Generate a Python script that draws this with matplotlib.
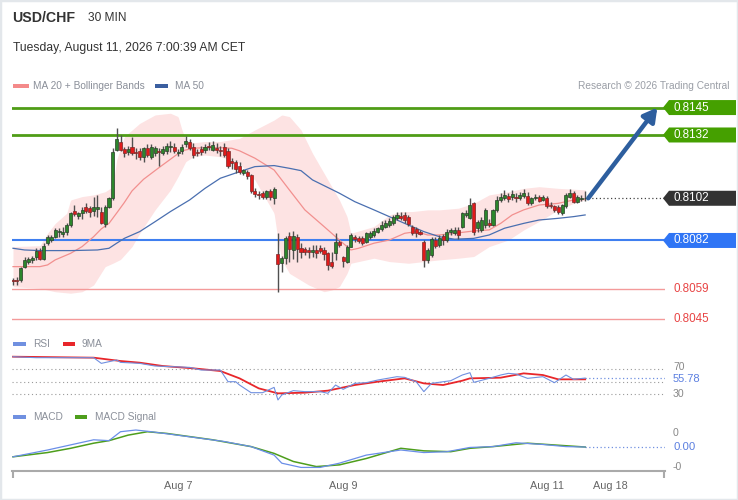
import numpy as np
import matplotlib
matplotlib.use("Agg")
import matplotlib.pyplot as plt
from matplotlib.patches import Polygon, Rectangle

plt.rcParams['font.family'] = ['Liberation Sans', 'DejaVu Sans']

# ---------------- data ----------------
symbol = "USD/CHF"
timeframe = "30 MIN"
timestamp = "Tuesday, August 11, 2026 7:00:39 AM CET"
credit = "Research \u00a9 2026 Trading Central"

opens = [0.80633, 0.80633, 0.80633, 0.80693, 0.80719, 0.80727, 0.80740, 0.80770, 0.80731, 0.80807,
         0.80822, 0.80838, 0.80860, 0.80851, 0.80862, 0.80893, 0.80962, 0.80938, 0.80949, 0.80977,
         0.80973, 0.80962, 0.80969, 0.80957, 0.80898, 0.80977, 0.81020, 0.81249, 0.81288, 0.81252,
         0.81239, 0.81265, 0.81239, 0.81246, 0.81215, 0.81257, 0.81216, 0.81233, 0.81245, 0.81235,
         0.81245, 0.81265, 0.81265, 0.81235, 0.81245, 0.81275, 0.81285, 0.81265, 0.81240, 0.81255,
         0.81250, 0.81268, 0.81250, 0.81260, 0.81250, 0.81265, 0.81245, 0.81195, 0.81190, 0.81175,
         0.81140, 0.81145, 0.81128, 0.81055, 0.81040, 0.81045, 0.81025, 0.81055, 0.81020, 0.80756,
         0.80712, 0.80735, 0.80840, 0.80775, 0.80835, 0.80783, 0.80778, 0.80775, 0.80763, 0.80775,
         0.80783, 0.80775, 0.80759, 0.80720, 0.80759, 0.80815, 0.80740, 0.80720, 0.80791, 0.80835,
         0.80830, 0.80830, 0.80815, 0.80835, 0.80846, 0.80862, 0.80873, 0.80886, 0.80894, 0.80905,
         0.80925, 0.80936, 0.80941, 0.80933, 0.80886, 0.80873, 0.80862, 0.80815, 0.80728, 0.80751,
         0.80823, 0.80799, 0.80841, 0.80822, 0.80859, 0.80854, 0.80869, 0.80885, 0.80943, 0.80925,
         0.80996, 0.80877, 0.80870, 0.80893, 0.80904, 0.80893, 0.80964, 0.81012, 0.81020, 0.81031,
         0.81024, 0.81028, 0.81020, 0.81031, 0.81031, 0.80996, 0.81020, 0.81024, 0.81012, 0.81020,
         0.80988, 0.80983, 0.80980, 0.80949, 0.80983, 0.81028, 0.81043, 0.81004, 0.81015, 0.81020]

highs = [0.80642, 0.80647, 0.80696, 0.80743, 0.80743, 0.80746, 0.80783, 0.80784, 0.80807, 0.80846,
         0.80846, 0.80878, 0.80879, 0.80885, 0.80901, 0.80957, 0.80988, 0.80957, 0.80980, 0.80996,
         0.80983, 0.81028, 0.81036, 0.80980, 0.80988, 0.81028, 0.81257, 0.81352, 0.81321, 0.81265,
         0.81268, 0.81309, 0.81257, 0.81257, 0.81265, 0.81276, 0.81278, 0.81270, 0.81260, 0.81270,
         0.81280, 0.81290, 0.81280, 0.81255, 0.81275, 0.81315, 0.81300, 0.81280, 0.81255, 0.81270,
         0.81275, 0.81285, 0.81290, 0.81280, 0.81270, 0.81280, 0.81260, 0.81210, 0.81200, 0.81190,
         0.81160, 0.81155, 0.81135, 0.81070, 0.81055, 0.81055, 0.81060, 0.81065, 0.81075, 0.80854,
         0.80745, 0.80840, 0.80860, 0.80865, 0.80850, 0.80807, 0.80791, 0.80791, 0.80799, 0.80799,
         0.80799, 0.80791, 0.80767, 0.80767, 0.80854, 0.80823, 0.80748, 0.80799, 0.80854, 0.80846,
         0.80840, 0.80840, 0.80862, 0.80865, 0.80878, 0.80886, 0.80910, 0.80917, 0.80925, 0.80941,
         0.80957, 0.80957, 0.80953, 0.80941, 0.80894, 0.80886, 0.80870, 0.80823, 0.80783, 0.80835,
         0.80835, 0.80846, 0.80850, 0.80875, 0.80880, 0.80885, 0.80885, 0.80957, 0.80965, 0.81020,
         0.81004, 0.80915, 0.80930, 0.80975, 0.80920, 0.80970, 0.81030, 0.81045, 0.81060, 0.81045,
         0.81060, 0.81045, 0.81050, 0.81065, 0.81050, 0.81028, 0.81040, 0.81035, 0.81035, 0.81030,
         0.81000, 0.80990, 0.80988, 0.80995, 0.81045, 0.81065, 0.81055, 0.81035, 0.81035, 0.81056]

lows = [0.80609, 0.80609, 0.80625, 0.80688, 0.80709, 0.80712, 0.80727, 0.80727, 0.80727, 0.80799,
        0.80813, 0.80830, 0.80838, 0.80838, 0.80846, 0.80885, 0.80938, 0.80922, 0.80922, 0.80949,
        0.80930, 0.80938, 0.80930, 0.80898, 0.80885, 0.80973, 0.81012, 0.81246, 0.81246, 0.81216,
        0.81225, 0.81225, 0.81204, 0.81201, 0.81193, 0.81216, 0.81208, 0.81220, 0.81175, 0.81225,
        0.81230, 0.81240, 0.81235, 0.81220, 0.81230, 0.81265, 0.81250, 0.81210, 0.81220, 0.81225,
        0.81235, 0.81250, 0.81245, 0.81235, 0.81220, 0.81215, 0.81165, 0.81160, 0.81140, 0.81135,
        0.81130, 0.81110, 0.81045, 0.81025, 0.81015, 0.81015, 0.81015, 0.81010, 0.80995, 0.80577,
        0.80670, 0.80710, 0.80720, 0.80730, 0.80720, 0.80736, 0.80749, 0.80736, 0.80744, 0.80736,
        0.80759, 0.80728, 0.80680, 0.80688, 0.80728, 0.80791, 0.80696, 0.80712, 0.80791, 0.80815,
        0.80807, 0.80799, 0.80807, 0.80826, 0.80838, 0.80854, 0.80865, 0.80878, 0.80886, 0.80894,
        0.80917, 0.80917, 0.80905, 0.80890, 0.80846, 0.80838, 0.80846, 0.80696, 0.80712, 0.80744,
        0.80783, 0.80791, 0.80800, 0.80814, 0.80845, 0.80846, 0.80826, 0.80880, 0.80930, 0.80920,
        0.80846, 0.80862, 0.80860, 0.80880, 0.80885, 0.80890, 0.80955, 0.81004, 0.81010, 0.81004,
        0.81012, 0.81004, 0.81010, 0.81020, 0.80990, 0.80988, 0.81012, 0.81000, 0.81005, 0.80975,
        0.80975, 0.80955, 0.80945, 0.80940, 0.80975, 0.81020, 0.80996, 0.80996, 0.81005, 0.81008]

closes = [0.80627, 0.80628, 0.80688, 0.80727, 0.80731, 0.80735, 0.80770, 0.80731, 0.80794, 0.80835,
          0.80835, 0.80870, 0.80865, 0.80862, 0.80893, 0.80949, 0.80946, 0.80949, 0.80964, 0.80962,
          0.80957, 0.80980, 0.80977, 0.80901, 0.80977, 0.81020, 0.81241, 0.81300, 0.81249, 0.81236,
          0.81252, 0.81236, 0.81233, 0.81215, 0.81257, 0.81225, 0.81265, 0.81260, 0.81240, 0.81255,
          0.81268, 0.81270, 0.81245, 0.81238, 0.81265, 0.81290, 0.81260, 0.81225, 0.81235, 0.81238,
          0.81265, 0.81263, 0.81273, 0.81250, 0.81245, 0.81225, 0.81175, 0.81185, 0.81160, 0.81145,
          0.81152, 0.81125, 0.81053, 0.81038, 0.81035, 0.81025, 0.81055, 0.81025, 0.81065, 0.80710,
          0.80735, 0.80830, 0.80780, 0.80840, 0.80780, 0.80763, 0.80767, 0.80763, 0.80775, 0.80759,
          0.80772, 0.80756, 0.80704, 0.80699, 0.80815, 0.80799, 0.80725, 0.80791, 0.80846, 0.80826,
          0.80819, 0.80810, 0.80854, 0.80854, 0.80867, 0.80878, 0.80894, 0.80902, 0.80910, 0.80933,
          0.80941, 0.80925, 0.80917, 0.80898, 0.80854, 0.80854, 0.80851, 0.80728, 0.80775, 0.80826,
          0.80794, 0.80830, 0.80820, 0.80862, 0.80869, 0.80869, 0.80846, 0.80949, 0.80949, 0.80988,
          0.80862, 0.80909, 0.80917, 0.80964, 0.80893, 0.80964, 0.81012, 0.81028, 0.81036, 0.81015,
          0.81040, 0.81020, 0.81036, 0.81043, 0.80996, 0.81020, 0.81028, 0.81009, 0.81024, 0.80983,
          0.80983, 0.80964, 0.80956, 0.80988, 0.81036, 0.81043, 0.81004, 0.81024, 0.81020, 0.81020]

# Bollinger / moving averages, read at sample candles
upper_idx = [1, 8, 10, 12, 15, 16, 19, 22, 25, 27, 28, 30, 34, 38, 42, 44, 45, 46, 48, 51, 55, 60, 64, 69,
             71, 73, 76, 79, 83, 86, 88, 89, 95, 99, 102, 105, 109, 112, 117, 121, 125, 130, 134, 138,
             143, 147, 150]
upper_val = [0.80791, 0.80795, 0.80854, 0.80901, 0.80949, 0.81012, 0.81028, 0.81036, 0.81051, 0.81075,
             0.81202, 0.81312, 0.81375, 0.81415, 0.81423, 0.81407, 0.81344, 0.81296, 0.81283, 0.81289,
             0.81289, 0.81304, 0.81344, 0.81391, 0.81415, 0.81407, 0.81344, 0.81233, 0.81107, 0.81012,
             0.80933, 0.80854, 0.80886, 0.80941, 0.80957, 0.80957, 0.80965, 0.80965, 0.80973, 0.80996,
             0.81036, 0.81051, 0.81067, 0.81075, 0.81067, 0.81063, 0.81060]
lower_idx = [1, 8, 12, 16, 19, 22, 25, 27, 29, 32, 34, 38, 42, 44, 46, 48, 51, 55, 60, 63, 64, 67, 69,
             70, 71, 73, 78, 82, 84, 86, 88, 89, 95, 99, 104, 108, 112, 117, 121, 125, 130, 134, 138,
             143, 147, 150]
lower_val = [0.80601, 0.80593, 0.80577, 0.80570, 0.80577, 0.80609, 0.80696, 0.80712, 0.80730, 0.80791,
             0.80854, 0.80965, 0.81059, 0.81123, 0.81194, 0.81217, 0.81225, 0.81217, 0.81186, 0.81123,
             0.81107, 0.81012, 0.80949, 0.80822, 0.80728, 0.80664, 0.80609, 0.80577, 0.80585, 0.80601,
             0.80664, 0.80712, 0.80736, 0.80720, 0.80712, 0.80720, 0.80728, 0.80736, 0.80744, 0.80791,
             0.80822, 0.80870, 0.80910, 0.80965, 0.80996, 0.81012]
ma20_idx = [1, 8, 10, 12, 16, 19, 22, 24, 26, 28, 30, 32, 35, 39, 42, 45, 48, 51, 55, 58, 60, 64, 69,
            73, 77, 82, 86, 89, 91, 95, 99, 103, 106, 109, 112, 116, 121, 125, 128, 131, 134, 138, 143,
            147, 150]
ma20_val = [0.80696, 0.80696, 0.80704, 0.80728, 0.80759, 0.80791, 0.80838, 0.80875, 0.80901, 0.80950,
            0.81000, 0.81055, 0.81110, 0.81165, 0.81205, 0.81245, 0.81257, 0.81260, 0.81260, 0.81257,
            0.81245, 0.81210, 0.81154, 0.81059, 0.80965, 0.80886, 0.80822, 0.80775, 0.80783, 0.80807,
            0.80822, 0.80854, 0.80862, 0.80846, 0.80846, 0.80854, 0.80865, 0.80870, 0.80901, 0.80941,
            0.80965, 0.80988, 0.80996, 0.81012, 0.81015]
ma50_idx = [1, 4, 8, 16, 23, 26, 28, 30, 34, 38, 42, 47, 51, 55, 60, 64, 69, 73, 76, 79, 86, 90, 95, 99,
            103, 108, 112, 116, 121, 125, 129, 134, 138, 143, 147, 150]
ma50_val = [0.80783, 0.80775, 0.80772, 0.80772, 0.80775, 0.80783, 0.80807, 0.80830, 0.80862, 0.80909,
            0.80957, 0.81012, 0.81067, 0.81115, 0.81146, 0.81170, 0.81175, 0.81162, 0.81151, 0.81107,
            0.81044, 0.81004, 0.80965, 0.80933, 0.80901, 0.80862, 0.80838, 0.80826, 0.80830, 0.80846,
            0.80878, 0.80901, 0.80917, 0.80925, 0.80933, 0.80941]

# key levels
resistances = [0.8145, 0.8132]
pivot = 0.8082
supports = [0.8059, 0.8045]

# RSI panel
rsi_idx = [1, 7, 22, 24, 28, 29, 34, 38, 47, 50, 55, 57, 59, 60, 63, 66, 69, 70, 71, 74, 77, 81, 83, 85,
           87, 90, 93, 96, 101, 103, 106, 108, 110, 115, 118, 120, 121, 125, 128, 130, 132, 135, 139,
           142, 145, 147, 150]
rsi_val = [90.4, 88.8, 88.8, 79.6, 85.0, 81.2, 79.6, 75.3, 73.1, 68.8, 68.8, 49.9, 49.9, 44.5, 32.1,
           32.1, 40.7, 20.3, 28.4, 35.4, 33.8, 33.8, 31.1, 44.5, 37.5, 47.2, 48.3, 52.6, 58.0, 56.9,
           49.9, 33.8, 47.2, 51.5, 60.7, 64.5, 48.8, 55.3, 60.7, 63.4, 62.3, 55.3, 58.0, 48.3, 60.7,
           53.7, 55.78]
rsi_ma_idx = [1, 22, 29, 34, 40, 48, 55, 60, 65, 70, 77, 83, 90, 96, 103, 108, 113, 118, 120, 128, 134,
              139, 143, 150]
rsi_ma_val = [90.4, 88.8, 83.4, 80.7, 75.3, 71.5, 67.2, 55.3, 39.1, 31.0, 32.1, 35.4, 44.5, 49.9, 55.3,
              47.2, 44.5, 51.5, 55.3, 56.4, 63.4, 60.7, 53.7, 53.7]
rsi_levels = [70, 50, 30]

# MACD panel
macd_idx = [1, 10, 16, 22, 26, 29, 33, 37, 47, 56, 63, 69, 71, 76, 81, 86, 93, 102, 108, 114, 120, 126,
            132, 139, 145, 150]
macd_val = [-0.00016, 0.0, 0.00012, 0.00024, 0.00022, 0.00043, 0.00047, 0.00043, 0.00031, 0.00020,
            0.00008, -0.00012, -0.00031, -0.00041, -0.00041, -0.00031, -0.00012, 0.0, -0.00006,
            -0.00004, 0.00006, 0.00008, 0.00017, 0.00013, 0.00008, 0.00007]
signal_idx = [1, 10, 16, 22, 26, 31, 36, 41, 53, 63, 69, 74, 80, 86, 93, 102, 108, 115, 120, 126, 135,
              145, 150]
signal_val = [-0.00016, -0.00006, 0.00004, 0.00016, 0.00022, 0.00035, 0.00043, 0.00039, 0.00024,
              0.00008, -0.00008, -0.00027, -0.00039, -0.00035, -0.00020, 0.00004, -0.00002, -0.00004,
              0.00004, 0.00008, 0.00016, 0.00010, 0.00007]
macd_ticks = [0.0004, -0.0004]
macd_tick_labels = ["0", "-0"]

date_pos = [44, 87, 140, 156.5]
date_labels = ["Aug 7", "Aug 9", "Aug 11", "Aug 18"]

# ---------------- layout ----------------
W, H = 738, 500
fig = plt.figure(figsize=(W / 100, H / 100), dpi=100)
fig.patch.set_facecolor("white")


def fx(px):
    return px / W


def fy(py):
    return 1 - py / H


XMIN, XMAX = 0.74, 170.8


def panel(top, bottom):
    ax = fig.add_axes([fx(12), fy(bottom), fx(665) - fx(12), (bottom - top) / H])
    ax.set_xlim(XMIN, XMAX)
    ax.set_facecolor("none")
    for s in ax.spines.values():
        s.set_visible(False)
    ax.set_xticks([])
    ax.set_yticks([])
    return ax


ax = panel(98, 328)
ax.set_ylim(0.804051, 0.814953)
ax_rsi = panel(352, 402)
ax_rsi.set_ylim(17.0, 98.0)
ax_macd = panel(425, 471)
ax_macd.set_ylim(-0.000494, 0.000588)

# frame
fig.add_artist(Rectangle((0, 0), 1, 1, transform=fig.transFigure, fill=False,
                         edgecolor="#e3e7eb", lw=2.5))

# header
fig.text(fx(12), fy(18), symbol, fontsize=10.2, fontweight="bold", color="#333333", va="center")
fig.text(fx(88), fy(18), timeframe, fontsize=8.6, color="#333333", va="center")
fig.text(fx(13), fy(48), timestamp, fontsize=8.7, color="#333333", va="center")

# main legend
fig.add_artist(Rectangle((fx(13), fy(88)), fx(16), 4 / H, transform=fig.transFigure,
                         color="#f48a8a", lw=0))
fig.text(fx(33), fy(86), "MA 20 + Bollinger Bands", fontsize=7.3, color="#8a8f99", va="center")
fig.add_artist(Rectangle((fx(155), fy(88)), fx(13), 4 / H, transform=fig.transFigure,
                         color="#3b5fa0", lw=0))
fig.text(fx(175), fy(86), "MA 50", fontsize=7.3, color="#8a8f99", va="center")
fig.text(fx(729), fy(86), credit, fontsize=7.3, color="#9a9ea6", va="center", ha="right")

# ---------------- main price panel ----------------
n = len(closes)
xi = np.arange(1, n + 1)
o = np.array(opens)
h = np.array(highs)
l = np.array(lows)
c = np.array(closes)

xs = np.linspace(1, n, 800)
up = np.interp(xs, upper_idx, upper_val)
lo = np.interp(xs, lower_idx, lower_val)
ax.fill_between(xs, lo, up, color="#fde3e3", lw=0, zorder=1)
ax.plot(ma20_idx, ma20_val, color="#f2908f", lw=0.9, zorder=3)
ax.plot(ma50_idx, ma50_val, color="#4a6fb0", lw=0.9, zorder=3)

for r in resistances:
    ax.axhline(r, color="#4f9d16", lw=2.0, zorder=2)
ax.axhline(pivot, color="#3f7ff0", lw=1.5, zorder=2)
for s in supports:
    ax.axhline(s, color="#f49a9a", lw=1.0, zorder=2)

up_mask = c >= o
ax.vlines(xi, l, h, color="#505050", lw=1.0, zorder=4)
body_lo = np.minimum(o, c)
body_h = np.maximum(np.abs(c - o), 0.000015)
ax.bar(xi[up_mask], body_h[up_mask], bottom=body_lo[up_mask], width=0.8,
       color="#2c862c", edgecolor="#2a3f2a", lw=0.5, zorder=5)
ax.bar(xi[~up_mask], body_h[~up_mask], bottom=body_lo[~up_mask], width=0.8,
       color="#e01a1a", edgecolor="#7a2a2a", lw=0.5, zorder=5)

# projection arrow and last price dotted line
ax.plot([n + 0.8, XMAX], [c[-1], c[-1]], color="#444444", lw=0.9, ls=(0, (1, 2)), zorder=3)
ax.annotate("", xy=(n + 18.8, resistances[0]), xytext=(n + 0.8, c[-1]),
            arrowprops=dict(arrowstyle="-|>,head_length=0.8,head_width=0.45", color="#2d5e9e",
                            lw=3.2, shrinkA=0, shrinkB=0, mutation_scale=10), zorder=6)


def tag(axis, val, text, fc=None, tc="white", size=8.4, dy=0.0):
    yd = axis.transData.transform((XMAX, val))[1]
    ypx = H - yd
    if fc is not None:
        pts = [(663, ypx), (669, ypx - 7.5), (736, ypx - 7.5), (736, ypx + 7.5), (669, ypx + 7.5)]
        fig.add_artist(Polygon([(fx(a), fy(b)) for a, b in pts], closed=True,
                               transform=fig.transFigure, color=fc, lw=0))
    fig.text(fx(673), fy(ypx + dy), text, fontsize=size, color=tc, va="center", ha="left")


for r in resistances:
    tag(ax, r, f"{r:.4f}", "#45a000")
tag(ax, c[-1], f"{c[-1]:.4f}", "#333333")
tag(ax, pivot, f"{pivot:.4f}", "#2f75f5")
for s in supports:
    tag(ax, s, f"{s:.4f}", None, "#e84545")

# ---------------- RSI panel ----------------
for lv in rsi_levels:
    ax_rsi.axhline(lv, color="#9a9a9a", lw=0.8, ls=(0, (1, 2.5)))
ax_rsi.plot(rsi_ma_idx, rsi_ma_val, color="#e8262a", lw=1.3, zorder=3)
ax_rsi.plot(rsi_idx, rsi_val, color="#7090e0", lw=0.8, zorder=4)
ax_rsi.plot([rsi_idx[-1], XMAX], [rsi_val[-1]] * 2, color="#7090e0", lw=0.9, ls=(0, (1, 2)))
tag(ax_rsi, 70, "70", None, "#888888", 7.4, -2.0)
tag(ax_rsi, 30, "30", None, "#888888", 7.6)
tag(ax_rsi, rsi_val[-1], f"{rsi_val[-1]:.2f}", None, "#5b7fe0", 8.0, 0.8)

fig.add_artist(Rectangle((fx(13), fy(346)), fx(13), 4 / H, transform=fig.transFigure,
                         color="#7090e0", lw=0))
fig.text(fx(33), fy(344), "RSI", fontsize=7.3, color="#8a8f99", va="center")
fig.add_artist(Rectangle((fx(63), fy(346)), fx(12), 4 / H, transform=fig.transFigure,
                         color="#e8262a", lw=0))
fig.text(fx(82), fy(344), "9MA", fontsize=7.3, color="#8a8f99", va="center")

# ---------------- MACD panel ----------------
ax_macd.plot(signal_idx, signal_val, color="#4e9e1c", lw=1.1, zorder=3)
ax_macd.plot(macd_idx, macd_val, color="#6a8ee8", lw=0.9, zorder=4)
ax_macd.plot([macd_idx[-1], XMAX], [macd_val[-1]] * 2, color="#7090e0", lw=0.9, ls=(0, (1, 2)))
for v, t in zip(macd_ticks, macd_tick_labels):
    tag(ax_macd, v, t, None, "#888888", 7.6)
tag(ax_macd, macd_val[-1], f"{macd_val[-1]:.2f}", None, "#5b7fe0", 8.2)

fig.add_artist(Rectangle((fx(13), fy(419)), fx(13), 4 / H, transform=fig.transFigure,
                         color="#7090e0", lw=0))
fig.text(fx(33), fy(417), "MACD", fontsize=7.3, color="#8a8f99", va="center")
fig.add_artist(Rectangle((fx(75), fy(419)), fx(12), 4 / H, transform=fig.transFigure,
                         color="#4e9e1c", lw=0))
fig.text(fx(95), fy(417), "MACD Signal", fontsize=7.3, color="#8a8f99", va="center")

# x axis
ax_macd.spines["bottom"].set_visible(True)
ax_macd.spines["bottom"].set_color("#aaaaaa")
ax_macd.spines["bottom"].set_linewidth(1.5)
ax_macd.set_xticks(date_pos)
ax_macd.set_xticklabels(date_labels, fontsize=7.8, color="#666666")
ax_macd.tick_params(axis="x", length=0, pad=7)
ax_macd.set_xticks([XMIN + 0.2, XMAX - 0.2], minor=True)
ax_macd.tick_params(axis="x", which="minor", length=5, width=1.5, color="#aaaaaa", direction="out")

fig.savefig("out.png", dpi=100, facecolor="white")
